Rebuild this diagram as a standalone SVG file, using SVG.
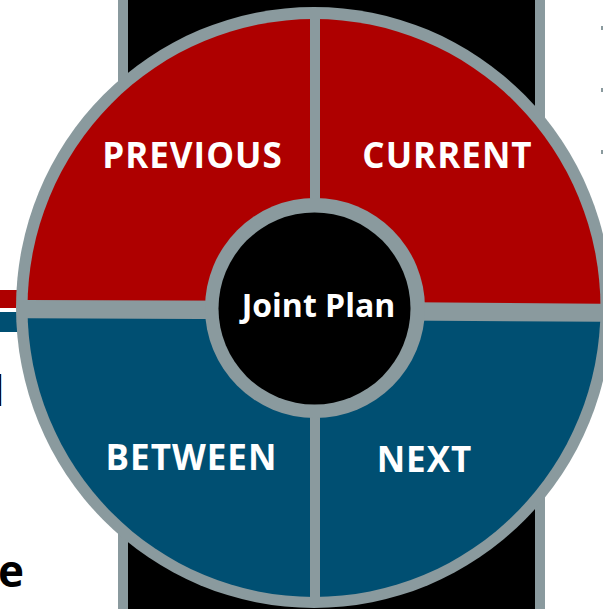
<svg xmlns="http://www.w3.org/2000/svg" width="603" height="609" viewBox="0 0 603 609">
<style>
.lbl{font-family:"Open Sans","Liberation Sans",sans-serif;font-weight:bold;fill:#ffffff;text-anchor:middle}
.q{font-size:35px;letter-spacing:1px}
.red{fill:#AE0000}
.blue{fill:#004F72}
.gray{fill:#8A9A9E}
</style>
<defs>
<clipPath id="inner"><ellipse cx="314" cy="308" rx="286.5" ry="289"/></clipPath>
</defs>
<rect width="603" height="609" fill="#ffffff"/>
<g id="backdrop">
<rect x="123" y="-20" width="417" height="660" fill="#000000" stroke="#8A9A9E" stroke-width="10"/>
<rect class="gray" x="601" y="26" width="2" height="4"/>
<rect class="gray" x="601" y="88" width="2" height="4"/>
<rect class="gray" x="601" y="150" width="2" height="4"/>
<text x="-6" y="406" font-family="Open Sans, Liberation Sans, sans-serif" font-size="42" fill="#000">l</text>
<text x="24" y="587" text-anchor="end" font-family="Open Sans, Liberation Sans, sans-serif" font-weight="bold" font-size="44" fill="#000">e</text>
</g>
<g id="connectors">
<rect class="red" x="0" y="290" width="24" height="18"/>
<rect class="blue" x="0" y="312" width="24" height="20"/>
</g>
<ellipse id="ring" class="gray" cx="314" cy="307.5" rx="298" ry="300.5"/>
<g clip-path="url(#inner)">
<g id="previous">
<polygon class="red" points="0,0 310,0 310,301 0,300"/>
<text class="lbl q" x="192.5" y="168">PREVIOUS</text>
</g>
<g id="current">
<polygon class="red" points="320,0 620,0 620,304 320,301.5"/>
<text class="lbl q" x="447.5" y="168">CURRENT</text>
</g>
<g id="between">
<polygon class="blue" points="0,318 310,319.5 310,620 0,620"/>
<text class="lbl q" x="191.5" y="470">BETWEEN</text>
</g>
<g id="next">
<polygon class="blue" points="320,320 620,322 620,620 320,620"/>
<text class="lbl q" x="424.5" y="472">NEXT</text>
</g>
</g>
<g id="joint-plan">
<circle class="gray" cx="315" cy="308" r="110"/>
<circle cx="314.5" cy="308.5" r="96" fill="#000000"/>
<text class="lbl" x="318.5" y="317" font-size="32">Joint Plan</text>
</g>
</svg>
